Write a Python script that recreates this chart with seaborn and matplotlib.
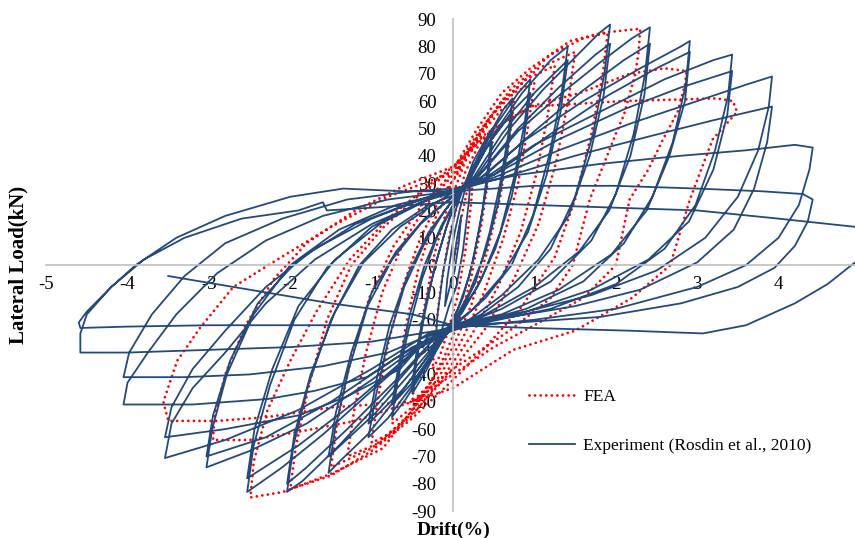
import pandas as pd
import numpy as np
import matplotlib
matplotlib.use("Agg")
import matplotlib.pyplot as plt
import seaborn as sns

# ===============================================================
# DATA (drift % / lateral load kN)
# ===============================================================

x_ticks = [-5, -4, -3, -2, -1, 0, 1, 2, 3, 4]
y_ticks = list(range(-90, 91, 10))

# experiment, one line per cycle (drift, load)
exp_path = [
    (0, 0), (0.05, 10), (0.10, 18), (0.07, 8), (0.02, -2), (-0.04, -8), (-0.10, -15), (-0.07, -5), (-0.02, 5), (0.02, 12),
    (0.08, 20), (0.15, 28), (0.22, 33), (0.19, 22), (0.12, 5), (0.04, -8), (-0.05, -15), (-0.14, -24), (-0.22, -30), (-0.19, -18), (-0.12, -2), (-0.04, 10), (0.03, 20),
    (0.1, 26), (0.25, 38), (0.4, 46), (0.48, 50), (0.44, 38), (0.36, 20), (0.25, 2), (0.12, -12), (0.0, -20), (-0.15, -28), (-0.32, -38), (-0.5, -47), (-0.45, -35), (-0.35, -18), (-0.22, 0), (-0.08, 14), (0.05, 24),
    (0.15, 30), (0.32, 40), (0.48, 45), (0.43, 32), (0.33, 14), (0.2, -4), (0.06, -16), (-0.08, -24), (-0.25, -33), (-0.5, -43), (-0.44, -30), (-0.32, -12), (-0.18, 4), (-0.04, 18), (0.06, 25),
    (0.2, 33), (0.45, 48), (0.62, 57), (0.73, 61), (0.68, 48), (0.58, 30), (0.45, 12), (0.28, -6), (0.1, -17), (-0.1, -26), (-0.35, -38), (-0.58, -49), (-0.75, -55.6), (-0.68, -42), (-0.55, -24), (-0.38, -5), (-0.2, 10), (0.0, 22),
    (0.2, 32), (0.45, 45), (0.73, 56), (0.67, 42), (0.55, 22), (0.4, 5), (0.2, -10), (0.02, -20), (-0.2, -30), (-0.5, -43), (-0.75, -51), (-0.67, -37), (-0.53, -18), (-0.35, 0), (-0.15, 14), (0.02, 23),
    (0.2, 32), (0.5, 50), (0.8, 63), (0.95, 68), (0.88, 52), (0.75, 32), (0.58, 12), (0.35, -5), (0.12, -17), (-0.12, -27), (-0.45, -42), (-0.8, -56), (-1.04, -63), (-0.95, -48), (-0.8, -28), (-0.6, -8), (-0.35, 8), (-0.1, 20),
    (0.15, 29), (0.45, 45), (0.75, 57), (0.95, 63), (0.87, 46), (0.72, 25), (0.52, 6), (0.3, -8), (0.05, -19), (-0.25, -31), (-0.6, -45), (-1.04, -58), (-0.94, -42), (-0.78, -22), (-0.55, -3), (-0.3, 12), (-0.05, 22),
    (0.2, 31), (0.5, 48), (0.85, 63), (1.2, 75), (1.41, 80), (1.33, 62), (1.18, 40), (0.98, 18), (0.72, 0), (0.4, -12), (0.1, -20), (-0.2, -29), (-0.6, -45), (-1.05, -62), (-1.4, -72), (-1.53, -76), (-1.45, -60), (-1.28, -38), (-1.05, -15), (-0.75, 2), (-0.4, 15), (-0.05, 24),
    (0.25, 32), (0.6, 48), (1.0, 63), (1.41, 75), (1.32, 56), (1.15, 33), (0.92, 12), (0.6, -4), (0.25, -16), (-0.05, -23), (-0.45, -37), (-0.95, -54), (-1.53, -70), (-1.44, -54), (-1.25, -32), (-1.0, -10), (-0.7, 5), (-0.35, 17), (0.0, 25),
    (0.3, 33), (0.7, 50), (1.1, 64), (1.5, 76), (1.8, 85), (1.93, 88), (1.86, 70), (1.72, 48), (1.5, 25), (1.2, 6), (0.8, -8), (0.35, -18), (0.0, -23), (-0.4, -33), (-0.9, -50), (-1.4, -66), (-1.85, -79), (-2.04, -83), (-1.96, -66), (-1.78, -44), (-1.5, -20), (-1.15, 0), (-0.75, 13), (-0.3, 22), (0.05, 26),
    (0.35, 34), (0.8, 50), (1.3, 65), (1.75, 77), (1.93, 81), (1.85, 62), (1.68, 40), (1.42, 18), (1.05, 2), (0.6, -11), (0.2, -20), (-0.2, -26), (-0.7, -42), (-1.3, -60), (-1.8, -74), (-2.04, -80), (-1.95, -62), (-1.75, -40), (-1.45, -17), (-1.1, 1), (-0.65, 14), (-0.2, 23),
    (0.3, 32), (0.8, 49), (1.3, 62), (1.8, 74), (2.2, 83), (2.42, 87), (2.36, 70), (2.22, 48), (2.0, 26), (1.7, 9), (1.2, -6), (0.6, -16), (0.1, -22), (-0.4, -30), (-1.0, -46), (-1.6, -62), (-2.1, -74), (-2.53, -83), (-2.45, -66), (-2.25, -44), (-1.95, -20), (-1.55, -1), (-1.0, 14), (-0.4, 23), (0.05, 27),
    (0.4, 33), (1.0, 49), (1.6, 64), (2.1, 75), (2.42, 81), (2.35, 62), (2.18, 40), (1.92, 20), (1.55, 5), (1.0, -8), (0.4, -18), (0.0, -22), (-0.5, -32), (-1.2, -50), (-1.9, -66), (-2.53, -78), (-2.44, -60), (-2.22, -38), (-1.9, -15), (-1.45, 2), (-0.9, 15), (-0.3, 24),
    (0.3, 31), (0.9, 46), (1.6, 60), (2.3, 72), (2.8, 80), (2.91, 82), (2.86, 66), (2.7, 45), (2.45, 25), (2.1, 8), (1.6, -6), (0.9, -16), (0.3, -21), (-0.3, -27), (-1.0, -42), (-1.8, -58), (-2.5, -68), (-3.03, -74), (-2.96, -60), (-2.78, -40), (-2.45, -18), (-2.0, 0), (-1.4, 13), (-0.7, 22), (0.0, 27),
    (0.5, 33), (1.2, 48), (1.9, 62), (2.5, 72), (2.91, 78), (2.85, 60), (2.66, 40), (2.38, 20), (1.95, 4), (1.3, -9), (0.6, -18), (0.0, -22), (-0.7, -34), (-1.5, -50), (-2.3, -63), (-3.03, -70), (-2.95, -55), (-2.74, -35), (-2.4, -14), (-1.9, 2), (-1.2, 15), (-0.5, 23),
    (0.3, 30), (1.0, 44), (1.8, 56), (2.6, 68), (3.2, 75), (3.43, 77), (3.38, 62), (3.22, 42), (2.98, 22), (2.6, 6), (2.0, -7), (1.2, -16), (0.4, -21), (-0.3, -25), (-1.0, -38), (-1.9, -53), (-2.8, -64), (-3.54, -70.6), (-3.46, -58), (-3.2, -45), (-2.8, -32), (-2.3, -14), (-1.7, 2), (-1.0, 15), (-0.3, 24),
    (0.5, 33), (1.3, 46), (2.1, 57), (2.8, 65), (3.43, 71), (3.37, 55), (3.2, 35), (2.9, 16), (2.4, 2), (1.7, -9), (0.9, -17), (0.2, -22), (-0.3, -26), (-0.65, -38), (-1.3, -48), (-1.9, -55), (-2.8, -60), (-3.54, -63), (-3.46, -52), (-3.2, -38), (-2.8, -24), (-2.3, -8), (-1.7, 6), (-1.0, 17), (-0.3, 25),
    (0.5, 32), (1.3, 42), (2.2, 52), (3.0, 60), (3.6, 66), (3.92, 69), (3.88, 58), (3.75, 42), (3.5, 25), (3.1, 10), (2.5, -2), (1.7, -11), (0.9, -17), (0.2, -21), (-0.5, -30), (-1.06, -41), (-1.7, -46), (-2.28, -49), (-3.2, -51), (-4.05, -51), (-4.0, -43), (-3.75, -32), (-3.4, -18), (-2.9, -3), (-2.3, 9), (-1.6, 18), (-0.8, 24), (0.0, 27),
    (0.6, 32), (1.5, 40), (2.4, 47), (3.2, 53), (3.92, 58), (3.86, 45), (3.7, 28), (3.45, 13), (3.0, 1), (2.3, -9), (1.5, -15), (0.7, -19), (0.0, -22), (-0.8, -32), (-1.6, -37), (-2.5, -40), (-3.3, -41), (-4.05, -41), (-3.98, -32), (-3.7, -18), (-3.3, -4), (-2.8, 8), (-2.1, 17), (-1.3, 24), (-0.5, 27), (0.0, 28),
    (0.8, 33), (1.8, 37), (2.8, 40), (3.6, 42), (4.2, 44), (4.42, 43), (4.38, 35), (4.25, 22), (4.0, 10), (3.6, 0), (3.0, -8), (2.0, -16), (1.0, -20), (0.0, -23), (-1.0, -28), (-2.0, -30), (-3.0, -31), (-4.0, -32), (-4.58, -32), (-4.58, -25), (-4.5, -18), (-4.2, -8), (-3.9, 0), (-3.4, 10), (-2.8, 18), (-2.0, 25), (-1.35, 28), (-0.6, 27), (0.0, 27),
    (1.0, 29), (2.0, 29), (3.0, 28), (3.8, 27), (4.3, 26), (4.42, 24), (4.36, 16), (4.2, 7), (3.95, -1), (3.5, -8), (2.8, -14), (1.8, -19), (0.8, -21), (0.0, -22), (-1.0, -22), (-2.0, -22), (-3.0, -22), (-4.0, -22.5), (-4.58, -23), (-4.6, -21), (-4.5, -17), (-4.2, -8), (-3.8, 2), (-3.3, 10), (-2.6, 17), (-1.9, 20), (-1.6, 23), (-1.55, 20), (-1.0, 21), (0.0, 23),
    (1.0, 22), (2.0, 21), (3.0, 20), (4.0, 17), (4.94, 14), (5.1, 12), (5.1, 4), (4.94, 1), (4.6, -7), (4.2, -14), (3.6, -22), (3.07, -25), (2.17, -24), (0.95, -23), (0.0, -22), (-0.5, -18), (-1.5, -14), (-2.5, -9), (-3.5, -4),
]

# finite element analysis, one line per cycle (drift, load)
fea_path = [
    (0, 0), (0.08, 14), (0.17, 27), (0.25, 35), (0.22, 22), (0.15, 5), (0.05, -12), (-0.06, -24), (-0.16, -33), (-0.25, -38), (-0.22, -25), (-0.15, -8), (-0.05, 10), (0.05, 22),
    (0.15, 34), (0.3, 43), (0.5, 50), (0.45, 35), (0.35, 15), (0.22, -5), (0.08, -20), (-0.1, -33), (-0.3, -44), (-0.5, -50), (-0.45, -35), (-0.35, -15), (-0.22, 5), (-0.08, 20), (0.05, 30),
    (0.15, 38), (0.4, 50), (0.6, 57), (0.75, 60), (0.69, 45), (0.58, 25), (0.42, 5), (0.22, -15), (0.0, -30), (-0.25, -42), (-0.5, -52), (-0.75, -58), (-0.69, -43), (-0.58, -22), (-0.43, -2), (-0.25, 15), (-0.05, 28),
    (0.15, 40), (0.45, 54), (0.75, 63), (1.0, 67), (0.93, 52), (0.8, 30), (0.62, 10), (0.38, -10), (0.1, -28), (-0.2, -42), (-0.55, -55), (-0.8, -62), (-1.0, -65), (-0.93, -50), (-0.8, -29), (-0.62, -8), (-0.4, 10), (-0.15, 25), (0.05, 33),
    (0.2, 42), (0.55, 58), (0.9, 68), (1.25, 73), (1.17, 56), (1.03, 34), (0.83, 12), (0.55, -8), (0.22, -26), (-0.1, -40), (-0.5, -55), (-0.9, -65), (-1.3, -70), (-1.22, -54), (-1.07, -32), (-0.87, -10), (-0.6, 9), (-0.3, 23), (0.0, 33),
    (0.25, 44), (0.6, 60), (1.05, 72), (1.5, 78), (1.42, 61), (1.27, 38), (1.05, 15), (0.75, -5), (0.38, -24), (0.0, -38), (-0.45, -53), (-1.0, -67), (-1.5, -74), (-1.42, -57), (-1.26, -35), (-1.03, -12), (-0.73, 7), (-0.38, 22), (0.0, 34),
    (0.3, 48), (0.7, 64), (1.2, 77), (1.6, 83), (1.9, 85), (1.84, 70), (1.7, 48), (1.5, 24), (1.25, 3), (0.85, -15), (0.4, -30), (0.0, -42), (-0.5, -56), (-1.0, -68), (-1.5, -77), (-2.0, -82), (-1.93, -66), (-1.77, -44), (-1.55, -20), (-1.25, 0), (-0.85, 14), (-0.4, 26), (0.0, 35),
    (0.3, 50), (0.6, 63), (0.95, 72), (1.44, 82), (1.84, 85), (2.3, 86.5), (2.28, 78), (2.24, 70), (2.1, 55), (2.0, 48), (1.84, 36), (1.68, 24), (1.47, 0), (1.2, -12), (0.74, -23), (0.3, -32), (0.0, -38), (-0.3, -45), (-0.86, -67), (-1.47, -76), (-2.09, -83), (-2.49, -85), (-2.45, -72), (-2.28, -53), (-2.0, -35), (-1.67, -16.5), (-1.27, 2), (-0.8, 17), (-0.35, 28), (0.0, 36),
    (0.4, 48), (0.95, 58), (1.56, 63), (2.17, 70), (2.6, 72), (2.87, 71), (2.85, 66), (2.76, 56), (2.58, 46), (2.4, 35), (2.17, 24), (2.0, 0), (1.6, -12), (1.0, -22), (0.5, -30), (0.0, -40), (-0.5, -50), (-1.2, -57), (-1.9, -61), (-2.5, -64), (-2.95, -64), (-2.93, -55), (-2.8, -40), (-2.55, -22), (-2.2, -5), (-1.8, 8), (-1.2, 20), (-0.6, 29), (0.0, 36),
    (0.5, 50), (0.95, 58), (2.09, 60), (3.24, 61), (3.44, 60), (3.49, 56), (3.19, 46), (2.91, 24), (2.67, 0), (2.2, -12), (1.5, -24), (0.74, -31), (0.0, -45), (-0.5, -50), (-1.47, -52), (-2.28, -55.6), (-2.9, -57), (-3.5, -57), (-3.56, -50), (-3.39, -35), (-3.11, -23), (-2.7, -8), (-2.16, 2), (-1.5, 14), (-0.8, 25), (0.0, 34),
]

exp_df = pd.DataFrame(exp_path, columns=["Drift", "Load"])
fea_df = pd.DataFrame(fea_path, columns=["Drift", "Load"])

# ===============================================================
# PLOT
# ===============================================================

plt.rcParams["font.family"] = ["Liberation Serif", "DejaVu Serif"]
plt.rcParams["axes.unicode_minus"] = False

fig = plt.figure(figsize=(8.55, 5.38), dpi=100)
ax = fig.add_axes([0.054, 0.050, 0.947, 0.9145])

sns.lineplot(data=fea_df, x="Drift", y="Load", sort=False, estimator=None,
             color="#FF0000", linewidth=2.0, linestyle=(0, (0.01, 2.0)),
             label="FEA", ax=ax)
sns.lineplot(data=exp_df, x="Drift", y="Load", sort=False, estimator=None,
             color="#24497A", linewidth=1.3,
             label="Experiment (Rosdin et al., 2010)", ax=ax)
ax.lines[0].set_dash_capstyle("round")

ax.set_xlim(-5, 4.95)
ax.set_ylim(-90, 90)
ax.set_xticks(x_ticks)
ax.set_yticks(y_ticks)

for side in ["top", "right"]:
    ax.spines[side].set_visible(False)
for side in ["left", "bottom"]:
    ax.spines[side].set_position(("data", 0))
    ax.spines[side].set_color("#BFBFBF")
    ax.spines[side].set_linewidth(1.2)
ax.tick_params(axis="both", length=0, labelsize=13.5, colors="#000000")
ax.tick_params(axis="x", pad=8)
ax.tick_params(axis="y", pad=12)

ax.set_xlabel("Drift(%)", fontsize=14, fontweight="bold")
ax.set_ylabel("Lateral Load(kN)", fontsize=15, fontweight="bold")
ax.xaxis.set_label_coords(0.5025, -0.022)
ax.yaxis.set_label_coords(-0.022, 0.5)

leg = ax.legend(loc="center left", bbox_to_anchor=(0.609, 0.217),
                bbox_transform=fig.transFigure, frameon=False, fontsize=12.5,
                handlelength=2.6, labelspacing=1.9, borderpad=0, handletextpad=0.5)
leg.get_lines()[0].set_dash_capstyle("round")

fig.savefig("out.png", dpi=100)
